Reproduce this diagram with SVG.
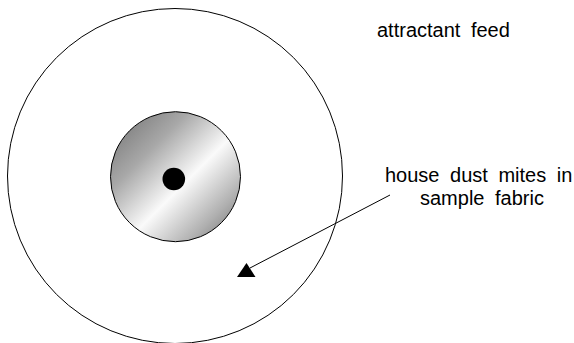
<svg xmlns="http://www.w3.org/2000/svg" width="574" height="343" viewBox="0 0 574 343">
<style>
.lbl{font-family:"Liberation Sans",Arial,sans-serif;font-size:20px;fill:#000;word-spacing:5px}
.ring{fill:none;stroke:#000;stroke-width:1}
.conn{stroke:#000;stroke-width:1;fill:none}
</style>
<defs>
<linearGradient id="metal" x1="0" y1="0" x2="1" y2="1">
<stop offset="0" stop-color="#6e6e6e"/>
<stop offset="0.3" stop-color="#a8a8a8"/>
<stop offset="0.56" stop-color="#fafafa"/>
<stop offset="0.8" stop-color="#b0b0b0"/>
<stop offset="1" stop-color="#6a6a6a"/>
</linearGradient>
</defs>
<rect width="574" height="343" fill="#fff"/>
<g id="outer-circle">
<circle class="ring" cx="175" cy="176" r="167.5"/>
</g>
<g id="inner-disc">
<circle cx="175.5" cy="176.7" r="65" fill="url(#metal)" stroke="#000" stroke-width="1"/>
</g>
<g id="center-dot">
<circle cx="173.8" cy="179" r="11.3" fill="#000"/>
</g>
<g id="label-feed">
<text class="lbl" x="377" y="37">attractant feed</text>
</g>
<g id="label-mites">
<text class="lbl" x="385" y="182">house dust mites in</text>
<text class="lbl" x="420" y="205">sample fabric</text>
</g>
<g id="connectors">
<line class="conn" x1="390" y1="195" x2="250" y2="268"/>
<polygon points="246.5,263 237,277 255.5,277" fill="#000"/>
</g>
</svg>
